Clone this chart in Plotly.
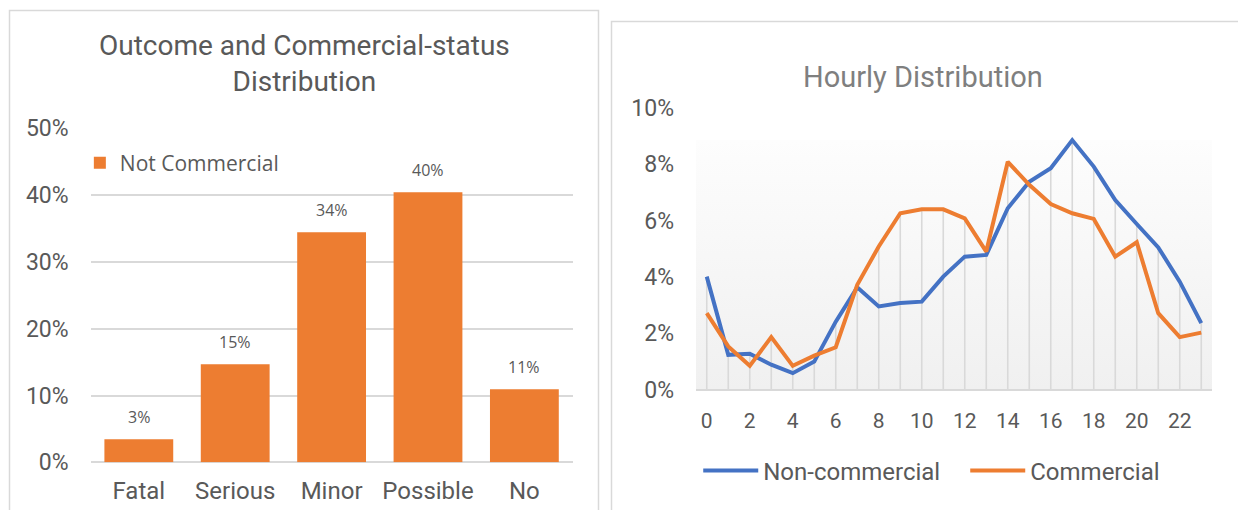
import plotly.graph_objects as go

# ---------------- data ----------------
outcome_categories = ["Fatal", "Serious", "Minor", "Possible", "No"]
not_commercial_share = [0.0344, 0.1467, 0.3443, 0.4042, 0.1093]
outcome_labels = ["3%", "15%", "34%", "40%", "11%"]

hours = list(range(24))
non_commercial = [0.0401, 0.0123, 0.0127, 0.0088, 0.0058, 0.0099, 0.0241, 0.0363,
                  0.0295, 0.0307, 0.0312, 0.0401, 0.0472, 0.0478, 0.0644, 0.0738,
                  0.0786, 0.0886, 0.0792, 0.0673, 0.0588, 0.0505, 0.0383, 0.0236]
commercial = [0.0271, 0.0153, 0.0084, 0.0186, 0.0084, 0.0120, 0.0150, 0.0372,
              0.0508, 0.0626, 0.0640, 0.0640, 0.0608, 0.0490, 0.0809, 0.0727,
              0.0659, 0.0626, 0.0606, 0.0472, 0.0523, 0.0271, 0.0186, 0.0202]
hour_ticks = list(range(0, 24, 2))

ORANGE = "#ED7D31"
BLUE = "#4472C4"
GRID = "#D9D9D9"
TXT = "#595959"

fig = go.Figure()

# ---------------- left: bar chart ----------------
fig.add_trace(go.Bar(
    x=outcome_categories, y=not_commercial_share, name="Not Commercial",
    marker=dict(color=ORANGE, line=dict(width=0)),
    xaxis="x", yaxis="y", legend="legend", showlegend=True,
))

for cat, val, lab in zip(outcome_categories, not_commercial_share, outcome_labels):
    fig.add_annotation(x=cat, y=val, text=lab, xref="x", yref="y",
                       showarrow=False, yanchor="bottom", yshift=9,
                       font=dict(family="Open Sans", size=16, color=TXT))

# ---------------- right: line chart ----------------
top = max(max(non_commercial), max(commercial))
fig.add_trace(go.Scatter(
    x=[-0.5, 23.5, 23.5, -0.5, -0.5], y=[0, 0, top, top, 0],
    mode="lines", line=dict(width=0), fill="toself",
    fillgradient=dict(type="vertical", start=0, stop=top,
                      colorscale=[[0, "#F0F0F0"], [1, "#FDFDFD"]]),
    xaxis="x2", yaxis="y2", showlegend=False, hoverinfo="skip",
))

dx, dy = [], []
for h, a, b in zip(hours, non_commercial, commercial):
    dx += [h, h, None]
    dy += [0, max(a, b), None]
fig.add_trace(go.Scatter(
    x=dx, y=dy, mode="lines", line=dict(color=GRID, width=1.6),
    xaxis="x2", yaxis="y2", showlegend=False, hoverinfo="skip",
))

fig.add_trace(go.Scatter(
    x=hours, y=non_commercial, name="Non-commercial", mode="lines",
    line=dict(color=BLUE, width=4), xaxis="x2", yaxis="y2", legend="legend2",
))
fig.add_trace(go.Scatter(
    x=hours, y=commercial, name="Commercial", mode="lines",
    line=dict(color=ORANGE, width=4), xaxis="x2", yaxis="y2", legend="legend2",
))

# ---------------- layout ----------------
fig.update_layout(
    width=1238, height=510,
    margin=dict(l=0, r=0, t=0, b=0, autoexpand=False),
    paper_bgcolor="white", plot_bgcolor="rgba(0,0,0,0)",
    font=dict(family="Roboto", color=TXT),
    bargap=0.286,
    xaxis=dict(domain=[0.0732, 0.4625], showgrid=False, zeroline=False,
               showline=False, ticks="", tickfont=dict(size=24, color=TXT),
               ticklabelstandoff=12, fixedrange=True, automargin=False),
    yaxis=dict(domain=[0.0935, 0.7484], range=[0, 0.5], dtick=0.1,
               tickformat=".0%", showgrid=True, gridcolor=GRID, gridwidth=1.5,
               zeroline=True, zerolinecolor=GRID, zerolinewidth=1.5,
               showline=False, ticks="", tickfont=dict(size=23, color=TXT),
               ticklabelstandoff=21, automargin=False),
    xaxis2=dict(domain=[0.5622, 0.979], range=[-0.5, 23.5], tickvals=hour_ticks,
                showgrid=False, zeroline=False, showline=True, linecolor=GRID,
                linewidth=2, ticks="", tickfont=dict(size=21, color=TXT),
                ticklabelstandoff=11, anchor="y2", automargin=False),
    yaxis2=dict(domain=[0.2363, 0.7882], range=[0, 0.1], dtick=0.02,
                tickformat=".0%", showgrid=False, zeroline=False, showline=False,
                ticks="", tickfont=dict(size=23, color=TXT), ticklabelstandoff=21,
                anchor="x2", automargin=False),
    legend=dict(x=0.0645, y=0.680, xanchor="left", yanchor="middle",
                bgcolor="rgba(0,0,0,0)", font=dict(family="Open Sans", size=21, color=TXT)),
    legend2=dict(orientation="h", x=0.564, y=0.0765, xanchor="left", yanchor="middle",
                 bgcolor="rgba(0,0,0,0)", font=dict(size=24, color=TXT),
                 itemwidth=55, entrywidth=197, entrywidthmode="pixels"),
    shapes=[
        dict(type="rect", xref="paper", yref="paper",
             x0=9.5 / 1238, x1=598.5 / 1238, y0=-0.05, y1=1 - 10.5 / 510,
             line=dict(color=GRID, width=1.5), fillcolor="rgba(0,0,0,0)", layer="below"),
        dict(type="rect", xref="paper", yref="paper",
             x0=611.5 / 1238, x1=1.05, y0=-0.05, y1=1 - 21.5 / 510,
             line=dict(color=GRID, width=1.5), fillcolor="rgba(0,0,0,0)", layer="below"),
    ],
)
fig.add_annotation(text="Outcome and Commercial-status<br>Distribution", xref="paper", yref="paper",
                   x=304 / 1238, y=1 - 63 / 510, xanchor="center", yanchor="middle",
                   showarrow=False, font=dict(family="Roboto", size=28, color=TXT))
fig.add_annotation(text="Hourly Distribution", xref="paper", yref="paper",
                   x=922.5 / 1238, y=1 - 77 / 510, xanchor="center", yanchor="middle",
                   showarrow=False, font=dict(family="Roboto", size=29, color="#7F7F7F"))

fig.write_html("out.html")
